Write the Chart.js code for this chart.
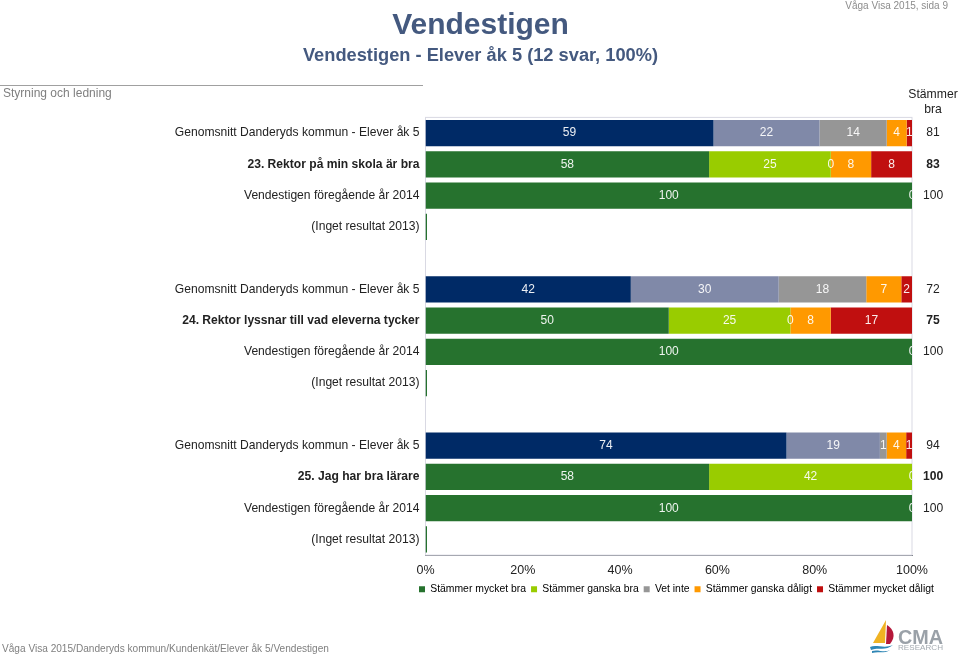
<!DOCTYPE html>
<html lang="sv">
<head>
<meta charset="utf-8">
<title>Vendestigen</title>
<script src="https://cdn.jsdelivr.net/npm/chart.js@4"></script>
<style>
  html, body { margin: 0; padding: 0; background: #fff; }
  body { width: 960px; height: 657px; position: relative; overflow: hidden; font-family: "Liberation Sans", Arial, sans-serif; }
  #myChart { position: absolute; left: 0; top: 0; }
  .txt { position: absolute; white-space: nowrap; }
  #titel { left: 0; width: 961px; top: 7px; text-align: center; font-size: 30px; font-weight: bold; color: #44597f; }
  #undertitel { left: 0; width: 961px; top: 44px; text-align: center; font-size: 18.25px; font-weight: bold; color: #44597f; }
  #sida { right: 12px; top: 0; font-size: 10px; color: #8c8c8c; }
  #avsnitt { left: 3px; top: 86px; font-size: 12px; color: #7f7f7f; }
  #linje { position: absolute; left: 0; top: 85px; width: 423px; height: 1px; background: #a0a0a0; }
  #huvud { left: 903px; width: 60px; top: 87px; text-align: center; font-size: 12.2px; line-height: 14.5px; color: #222; }
  #fot { left: 2px; top: 643px; font-size: 10.1px; color: #808080; }
  #logo { position: absolute; left: 866px; top: 616px; }
</style>
</head>
<body>
<canvas id="myChart" width="960" height="657"></canvas>
<div class="txt" id="titel">Vendestigen</div>
<div class="txt" id="undertitel">Vendestigen - Elever åk 5 (12 svar, 100%)</div>
<div class="txt" id="sida">Våga Visa 2015, sida 9</div>
<div id="linje"></div>
<div class="txt" id="avsnitt">Styrning och ledning</div>
<div class="txt" id="huvud">Stämmer<br>bra</div>
<div class="txt" id="fot">Våga Visa 2015/Danderyds kommun/Kundenkät/Elever åk 5/Vendestigen</div>
<svg id="logo" width="84" height="38" viewBox="0 0 84 38">
  <path d="M20 4 L19 27 L7 27 Z" fill="#f0b323"/>
  <path d="M21 9 C28 13 30 21 24 28 L20 28 Z" fill="#b5183a"/>
  <path d="M4 31 C10 28 18 33 27 29 C20 35 12 31 5 34 Z" fill="#2f86b5"/>
  <path d="M6 35 C12 33 18 37 24 34 C18 38 12 35 6 37 Z" fill="#2f86b5"/>
  <text x="32" y="28" font-family="Liberation Sans, Arial, sans-serif" font-size="20" font-weight="bold" fill="#9aa1a8" textLength="45" lengthAdjust="spacingAndGlyphs">CMA</text>
  <text x="32" y="34" font-family="Liberation Sans, Arial, sans-serif" font-size="6.5" fill="#a4abb1" textLength="45" lengthAdjust="spacingAndGlyphs">RESEARCH</text>
</svg>

<script>
// rader i diagrammet, tomma rader skiljer frågorna åt
const kategorier = [
  "Genomsnitt Danderyds kommun - Elever åk 5", "23. Rektor på min skola är bra", "Vendestigen föregående år 2014", "(Inget resultat 2013)", "",
  "Genomsnitt Danderyds kommun - Elever åk 5", "24. Rektor lyssnar till vad eleverna tycker", "Vendestigen föregående år 2014", "(Inget resultat 2013)", "",
  "Genomsnitt Danderyds kommun - Elever åk 5", "25. Jag har bra lärare", "Vendestigen föregående år 2014", "(Inget resultat 2013)"
];
const stammerBra = ["81", "83", "100", "", "", "72", "75", "100", "", "", "94", "100", "100", ""];
const fetaRader = [1, 6, 11];

const mycketBra   = [59.2, 58.3, 100, null, null, 42.2, 50, 100, null, null, 74.2, 58.3, 100, null];
const ganskaBra   = [21.8, 25, 0, null, null, 30.4, 25, 0, null, null, 19.2, 41.7, 0, null];
const vetInte     = [13.8, 0, 0, null, null, 18, 0, 0, null, null, 1.4, 0, 0, null];
const ganskaDalig = [4.1, 8.3, 0, null, null, 7.2, 8.3, 0, null, null, 4, 0, 0, null];
const mycketDalig = [1.1, 8.4, 0, null, null, 2.2, 16.7, 0, null, null, 1.2, 0, 0, null];
const ingetResultat = [null, null, null, 0, null, null, null, null, 0, null, null, null, null, 0];

const serier = ["Stämmer mycket bra", "Stämmer ganska bra", "Vet inte", "Stämmer ganska dåligt", "Stämmer mycket dåligt"];
const skolfarger = ["#26722e", "#99cc00", "#969696", "#ff9900", "#c00f0f"];
const kommunfarger = ["#002a66", "#8089a8", "#969696", "#ff9900", "#c00f0f"];
const kommunRader = [0, 5, 10];

function radfarger(serie) {
  return kategorier.map(function (k, i) {
    return kommunRader.includes(i) ? kommunfarger[serie] : skolfarger[serie];
  });
}

const typsnitt = '"Liberation Sans", Arial, sans-serif';

// förklaringen är bredare än plotytan och börjar strax till vänster om den
const forklaringPlugin = {
  id: "forklaring",
  afterLayout(chart) {
    chart.legend.left = 414;
    chart.legend.right = 960;
  }
};

// ram runt plotytan, ligger under staplarna
const ramPlugin = {
  id: "ram",
  beforeDatasetsDraw(chart) {
    const { ctx, chartArea: a } = chart;
    ctx.save();
    ctx.strokeStyle = "#d9d9e3";
    ctx.lineWidth = 1;
    ctx.strokeRect(a.left, a.top, a.right - a.left, a.bottom - a.top);
    ctx.restore();
  }
};

// siffror mitt i varje stapeldel, klipps vid plotytans kant
const etikettPlugin = {
  id: "etiketter",
  afterDatasetsDraw(chart) {
    const { ctx, chartArea: a } = chart;
    const ritade = new Set();
    ctx.save();
    ctx.beginPath();
    ctx.rect(a.left, a.top, a.right - a.left, a.bottom - a.top);
    ctx.clip();
    ctx.font = "12px " + typsnitt;
    ctx.fillStyle = "rgba(255,255,255,0.92)";
    ctx.textAlign = "center";
    ctx.textBaseline = "middle";
    chart.data.datasets.forEach(function (ds, d) {
      if (d >= serier.length) return;
      chart.getDatasetMeta(d).data.forEach(function (bar, i) {
        if (ds.data[i] === null) return;
        const mitt = bar.getCenterPoint();
        // flera nollor på samma plats ska bara synas en gång
        const nyckel = i + ":" + Math.round(mitt.x);
        if (ritade.has(nyckel)) return;
        ritade.add(nyckel);
        ctx.fillText(String(Math.round(ds.data[i])), mitt.x, mitt.y);
      });
    });
    ctx.restore();
  }
};

const varden = [mycketBra, ganskaBra, vetInte, ganskaDalig, mycketDalig];
const datasets = varden.map(function (v, s) {
  return {
    label: serier[s],
    data: v,
    backgroundColor: radfarger(s),
    categoryPercentage: 0.84,
    barPercentage: 1
  };
});
// smalt streck vid 0 % för rader utan resultat
datasets.push({
  label: "Inget resultat",
  data: ingetResultat,
  backgroundColor: skolfarger[0],
  minBarLength: 1.5,
  categoryPercentage: 0.84,
  barPercentage: 1
});

const ctx = document.getElementById("myChart").getContext("2d");
const myChart = new Chart(ctx, {
  type: "bar",
  data: { labels: kategorier, datasets: datasets },
  plugins: [forklaringPlugin, ramPlugin, etikettPlugin],
  options: {
    indexAxis: "y",
    responsive: false,
    animation: false,
    layout: { padding: { top: 117.4, bottom: 52.5, left: 0, right: 0 } },
    plugins: {
      tooltip: { enabled: false },
      title: { display: false },
      legend: {
        position: "bottom",
        align: "start",
        labels: {
          boxWidth: 6,
          boxHeight: 6,
          padding: 5,
          color: "#222",
          font: { family: typsnitt, size: 10.4 },
          generateLabels() {
            return serier.map(function (s, i) {
              return { text: s, fillStyle: skolfarger[i], strokeStyle: skolfarger[i], lineWidth: 0, datasetIndex: i };
            });
          }
        }
      }
    },
    scales: {
      x: {
        stacked: true,
        min: 0,
        max: 100,
        afterFit(axis) { axis.height = 24; },
        border: { color: "#5a6068", width: 1 },
        grid: { display: false, drawTicks: true, tickLength: 4, tickColor: "#5a6068" },
        ticks: {
          stepSize: 20,
          padding: 4,
          maxRotation: 0,
          color: "#222",
          font: { family: typsnitt, size: 12.5 },
          callback: function (v) { return v + "%"; }
        }
      },
      y: {
        stacked: true,
        afterFit(axis) { axis.width = 425.5; },
        border: { display: false },
        grid: { display: false, drawTicks: false },
        ticks: {
          autoSkip: false,
          padding: 6,
          color: "#222",
          font: function (c) {
            return { family: typsnitt, size: 12.1, weight: fetaRader.includes(c.index) ? "bold" : "normal" };
          }
        }
      },
      y2: {
        type: "category",
        position: "right",
        labels: stammerBra,
        afterFit(axis) { axis.width = 48; },
        border: { display: false },
        grid: { display: false, drawTicks: false, drawOnChartArea: false },
        ticks: {
          autoSkip: false,
          crossAlign: "center",
          padding: 11,
          color: "#222",
          font: function (c) {
            return { family: typsnitt, size: 12.1, weight: fetaRader.includes(c.index) ? "bold" : "normal" };
          }
        }
      }
    }
  }
});
</script>
</body>
</html>
